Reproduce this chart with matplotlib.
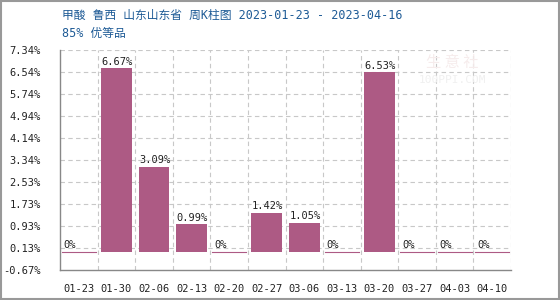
import numpy as np
import matplotlib
matplotlib.use("Agg")
import matplotlib.pyplot as plt

plt.rcParams['font.family'] = ['DejaVu Sans Mono', 'Noto Sans CJK SC']

# data
weeks = ["01-23", "01-30", "02-06", "02-13", "02-20", "02-27",
         "03-06", "03-13", "03-20", "03-27", "04-03", "04-10"]
changes = [0, 6.67, 3.09, 0.99, 0, 1.42, 1.05, 0, 6.53, 0, 0, 0]
ytick_vals = [-0.67, 0.13, 0.93, 1.73, 2.53, 3.34, 4.14, 4.94, 5.74, 6.54, 7.34]
ytick_labels = ["-0.67%", "0.13%", "0.93%", "1.73%", "2.53%", "3.34%",
                "4.14%", "4.94%", "5.74%", "6.54%", "7.34%"]

bar_color = "#ad5a84"
grid_color = "#c8c8c8"
text_color = "#1e5b96"

fig = plt.figure(figsize=(5.6, 3.0), dpi=100)
ax = fig.add_axes([60 / 560, 30 / 300, 451 / 560, 220 / 300])

x = np.arange(len(weeks))
ax.bar(x, changes, width=0.82, color=bar_color, zorder=3)
# zero-value weeks shown as a thin line on the baseline
for xi, v in zip(x, changes):
    if v == 0:
        ax.plot([xi - 0.45, xi + 0.45], [0, 0], color=bar_color, lw=0.8, zorder=3)
    ax.text(xi - 0.4, v + 0.05, f"{v:g}%" if v else "0%", fontsize=7.5,
            ha="left", va="bottom", color="#222222", zorder=4)

ax.set_xlim(-0.5, len(weeks) - 0.5)
ax.set_ylim(-0.67, 7.34)
ax.set_yticks(ytick_vals)
ax.set_yticklabels(ytick_labels)
ax.set_xticks(x)
ax.set_xticklabels(weeks)
ax.tick_params(length=0, labelsize=7.5, colors="#222222")
ax.tick_params(axis="y", pad=14)
ax.tick_params(axis="x", pad=10)

for yv in ytick_vals[1:]:
    ax.axhline(yv, color=grid_color, ls=(0, (4, 3)), lw=0.8, zorder=1)
for b in np.arange(0.5, len(weeks), 1.0):
    ax.axvline(b, color=grid_color, ls=(0, (4, 3)), lw=0.8, zorder=1)

for s in ["top", "right"]:
    ax.spines[s].set_visible(False)
for s in ["left", "bottom"]:
    ax.spines[s].set_color("#888888")
    ax.spines[s].set_linewidth(1)

fig.text(62 / 560, 1 - 15 / 300, "甲酸 鲁西 山东山东省 周K柱图 2023-01-23 - 2023-04-16",
         fontsize=8.5, color=text_color, va="center")
fig.text(62 / 560, 1 - 34 / 300, "85% 优等品", fontsize=8.5, color=text_color,
         va="center")

# faint watermark
fig.text(452 / 560, 1 - 63 / 300, "生 意 社", fontsize=11, color="#f6ecec",
         ha="center", va="center", family=['Noto Sans CJK SC'], zorder=0)
fig.text(452 / 560, 1 - 80 / 300, "100PPI.COM", fontsize=8, color="#f0f0f0",
         ha="center", va="center", zorder=0)

# outer frame
fig.patches.append(plt.Rectangle((0.002, 0.003), 0.996, 0.994, transform=fig.transFigure,
                                 fill=False, edgecolor="#999999", lw=1.5))

fig.savefig("out.png", dpi=100)
